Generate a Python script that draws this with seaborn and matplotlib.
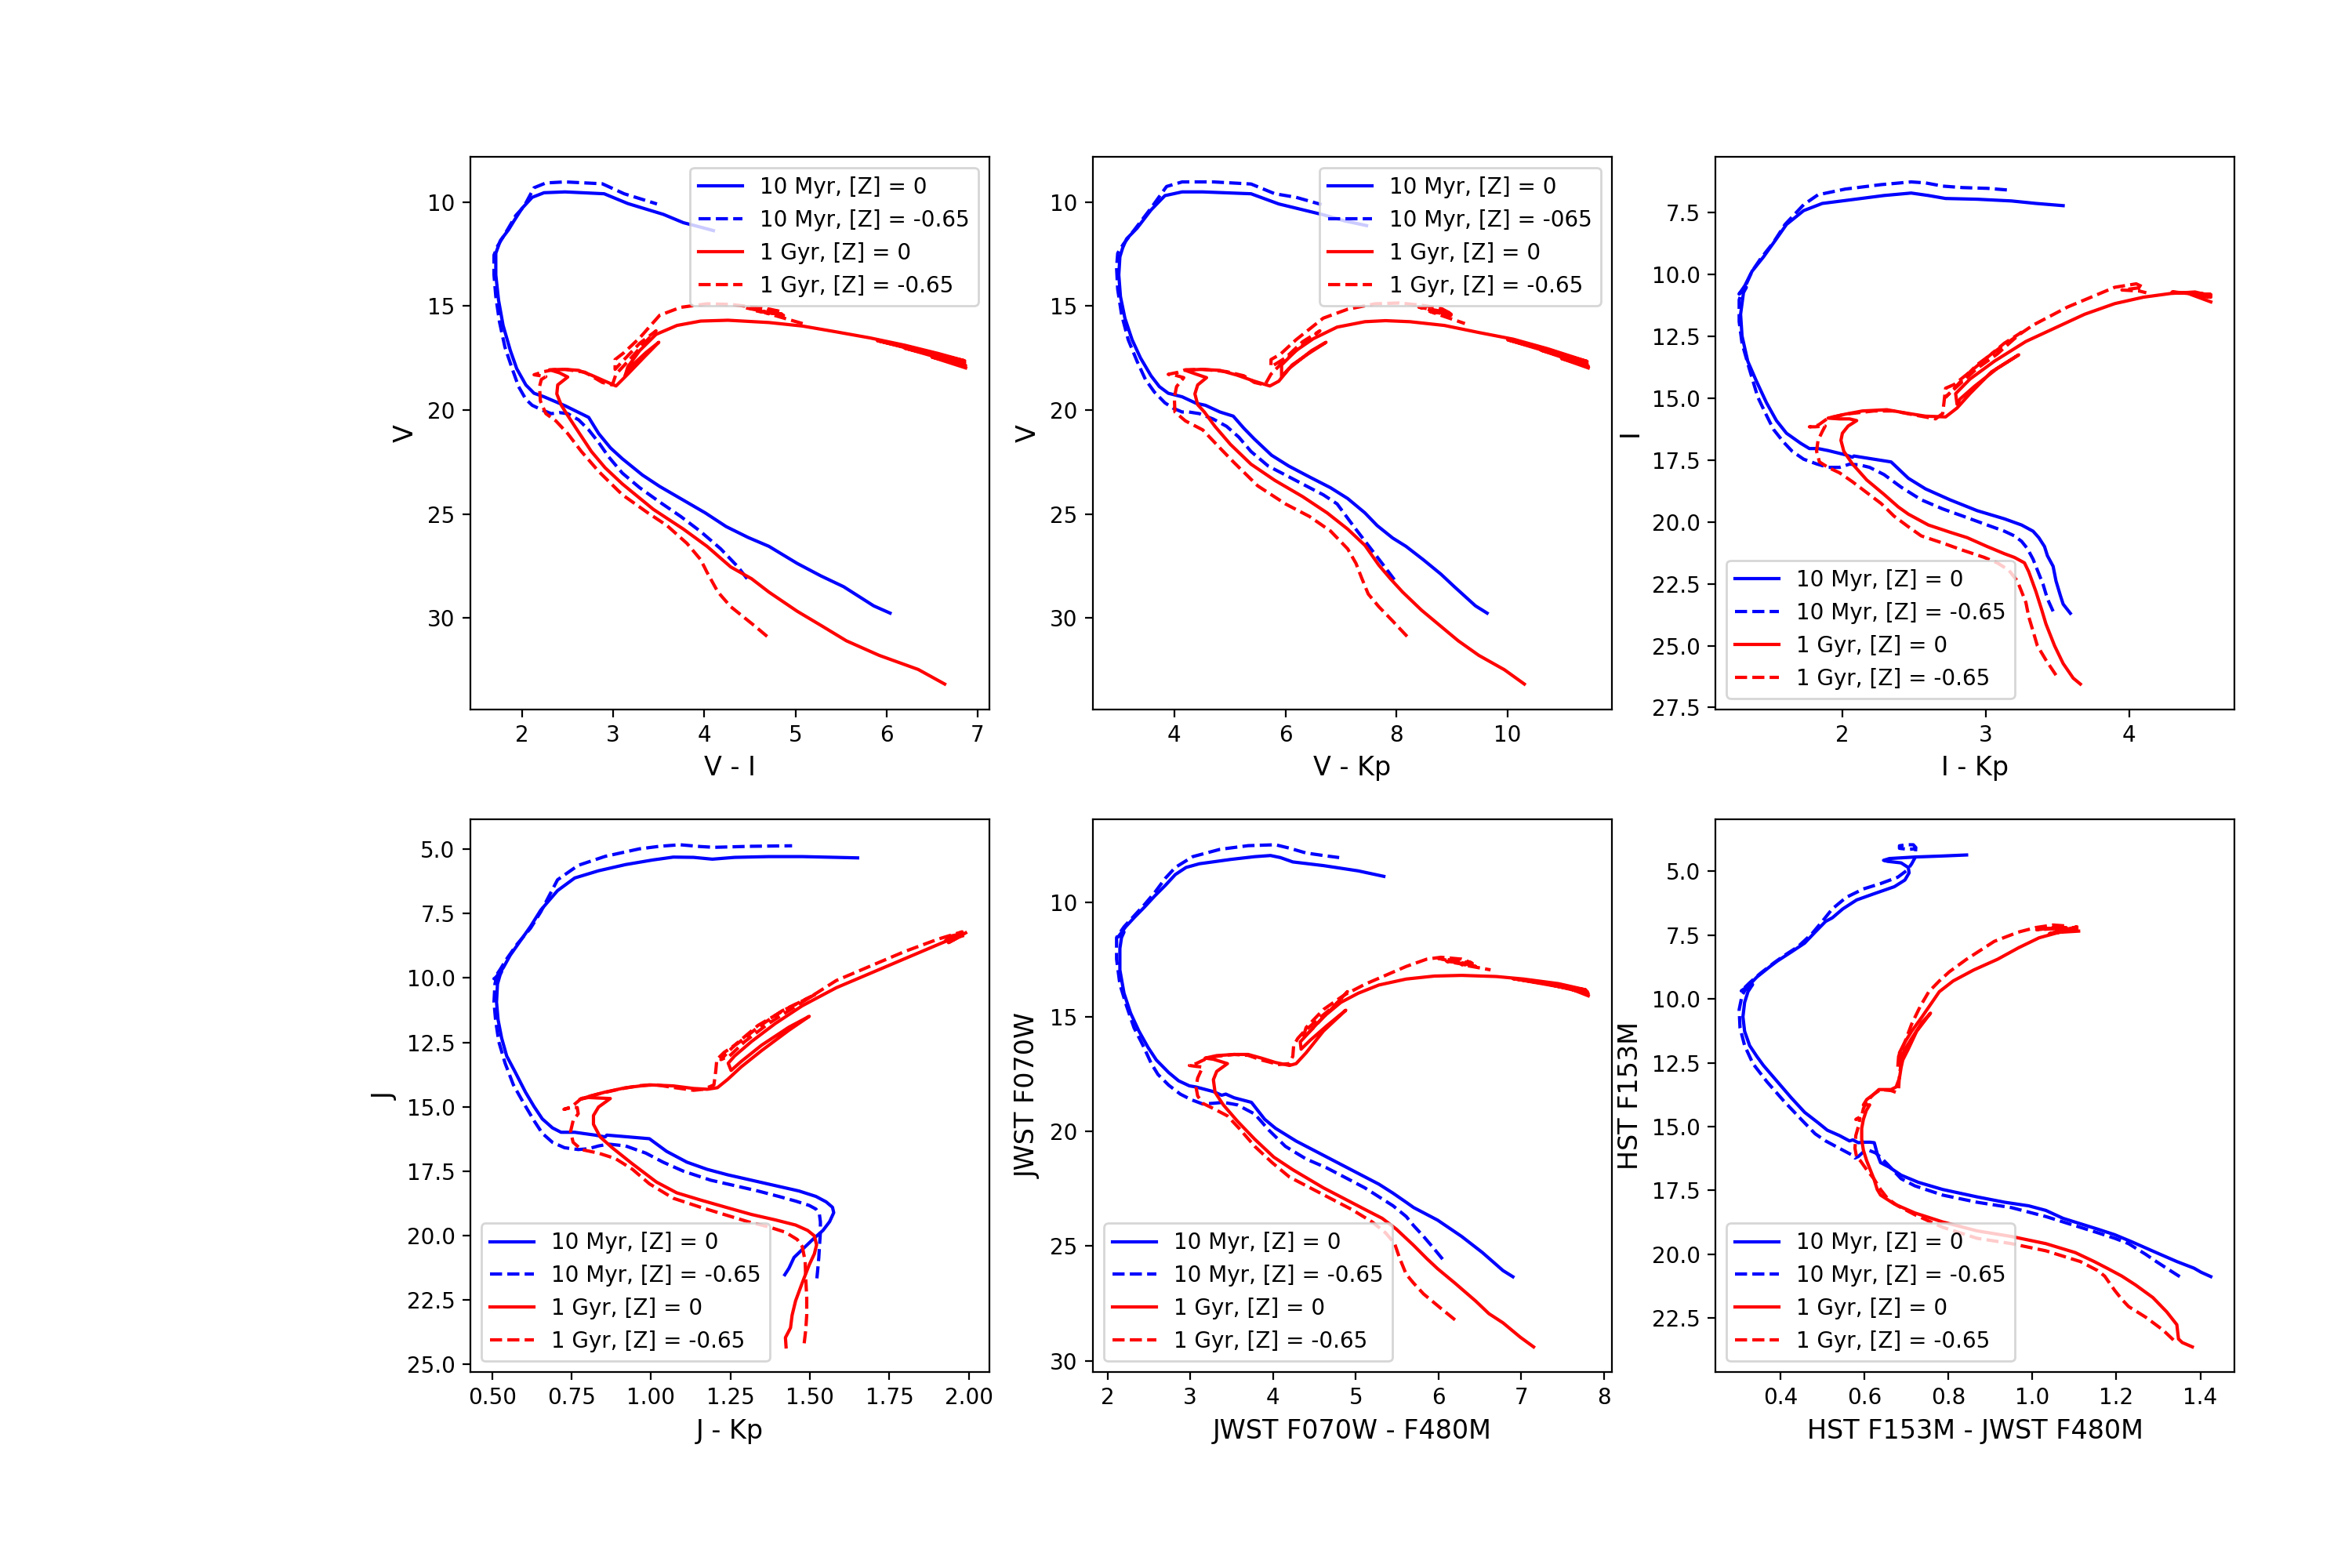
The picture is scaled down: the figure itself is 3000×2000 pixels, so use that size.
import matplotlib
matplotlib.use('Agg')
import matplotlib.pyplot as plt
import seaborn as sns

# ---- panel 1: V vs V - I ----
vi_b0_x = [6.04, 5.86, 5.53, 5.28, 5.02, 4.71, 4.48, 4.24, 4.01, 3.77, 3.51, 3.32, 3.10, 2.97, 2.84, 2.73, 2.47, 2.24, 2.13, 2.04, 1.94, 1.87, 1.79, 1.74, 1.71, 1.71, 1.76, 1.85, 1.91, 2.00, 2.11, 2.24, 2.47, 2.90, 3.16, 3.55, 3.77, 3.92, 4.10]
vi_b0_y = [29.76, 29.41, 28.49, 27.97, 27.37, 26.55, 26.12, 25.60, 24.94, 24.33, 23.67, 23.12, 22.34, 21.82, 21.13, 20.35, 19.79, 19.36, 19.19, 18.79, 18.01, 17.14, 15.93, 14.71, 13.50, 12.46, 11.85, 11.33, 10.90, 10.29, 9.77, 9.55, 9.51, 9.60, 10.07, 10.59, 10.99, 11.16, 11.37]
vi_b1_x = [4.47, 4.37, 4.18, 3.96, 3.74, 3.51, 3.29, 3.10, 2.95, 2.84, 2.73, 2.62, 2.50, 2.41, 2.32, 2.22, 2.11, 2.04, 1.96, 1.89, 1.81, 1.75, 1.71, 1.69, 1.69, 1.73, 1.83, 1.93, 2.02, 2.13, 2.26, 2.47, 2.88, 3.12, 3.48]
vi_b1_y = [28.11, 27.54, 26.67, 25.84, 25.11, 24.42, 23.73, 23.03, 22.25, 21.56, 20.95, 20.47, 20.17, 20.12, 20.17, 20.00, 19.77, 19.48, 18.87, 18.01, 16.97, 15.75, 14.54, 13.50, 12.55, 12.11, 11.39, 10.64, 10.21, 9.31, 9.08, 9.03, 9.12, 9.60, 10.09]
vi_r0_x = [6.64, 6.35, 5.92, 5.56, 5.30, 5.02, 4.71, 4.52, 4.29, 4.03, 3.77, 3.44, 3.10, 2.91, 2.76, 2.63, 2.50, 2.43, 2.38, 2.39, 2.50, 2.41, 2.30, 2.47, 2.62, 2.76, 2.91, 3.03, 3.16, 3.34, 3.50, 3.36, 3.19, 3.13, 3.16, 3.29, 3.47, 3.70, 3.96, 4.26, 4.71, 5.08, 5.45, 5.82, 6.20, 6.57, 6.86, 5.90, 6.86, 6.20, 6.87, 6.50, 6.87]
vi_r0_y = [33.17, 32.47, 31.79, 31.09, 30.40, 29.67, 28.75, 28.11, 27.54, 26.55, 25.72, 24.77, 23.55, 22.77, 21.99, 21.13, 20.26, 19.77, 19.22, 18.79, 18.41, 18.21, 18.06, 18.04, 18.09, 18.32, 18.61, 18.84, 18.27, 17.45, 16.74, 17.23, 17.92, 18.35, 17.92, 17.14, 16.36, 15.93, 15.72, 15.68, 15.79, 15.96, 16.24, 16.53, 16.88, 17.28, 17.63, 16.66, 17.72, 17.02, 17.85, 17.45, 17.97]
vi_r1_x = [4.69, 4.56, 4.29, 4.15, 4.03, 3.96, 3.81, 3.59, 3.38, 3.10, 2.84, 2.65, 2.50, 2.37, 2.26, 2.20, 2.19, 2.21, 2.26, 2.13, 2.24, 2.34, 2.47, 2.69, 2.88, 2.99, 3.03, 3.18, 3.32, 3.47, 3.29, 3.10, 3.02, 3.02, 3.12, 3.29, 3.51, 3.74, 4.03, 4.29, 4.56, 4.72, 4.85, 4.45, 4.87, 4.55, 4.85, 4.67, 5.08]
vi_r1_y = [30.88, 30.40, 29.45, 28.75, 27.80, 27.19, 26.41, 25.55, 24.94, 24.07, 22.95, 21.99, 21.13, 20.52, 20.17, 19.57, 18.87, 18.53, 18.39, 18.30, 18.15, 18.06, 18.04, 18.18, 18.67, 18.79, 18.27, 17.57, 16.88, 16.19, 16.79, 17.66, 18.04, 17.57, 17.23, 16.53, 15.44, 15.06, 14.89, 14.92, 15.06, 15.15, 15.27, 15.08, 15.44, 15.22, 15.38, 15.32, 15.84]

# ---- panel 2: V vs V - Kp ----
vk_b0_x = [9.63, 9.42, 9.04, 8.80, 8.48, 8.17, 7.93, 7.65, 7.43, 7.12, 6.81, 6.43, 6.06, 5.75, 5.44, 5.25, 5.06, 4.82, 4.56, 4.39, 4.14, 3.89, 3.73, 3.58, 3.39, 3.24, 3.11, 3.03, 3.00, 3.02, 3.07, 3.14, 3.33, 3.58, 3.83, 4.14, 4.51, 5.38, 5.88, 6.68, 7.06, 7.46]
vk_b0_y = [29.76, 29.41, 28.49, 27.89, 27.19, 26.55, 26.15, 25.55, 24.94, 24.25, 23.73, 23.21, 22.69, 22.17, 21.39, 20.87, 20.29, 20.09, 19.77, 19.67, 19.36, 19.19, 18.87, 18.35, 17.49, 16.62, 15.58, 14.54, 13.50, 12.63, 12.20, 11.77, 11.25, 10.38, 9.69, 9.51, 9.51, 9.60, 10.09, 10.61, 10.90, 11.13]
vk_b1_x = [7.96, 7.74, 7.49, 7.24, 6.93, 6.68, 6.37, 6.00, 5.69, 5.38, 5.16, 4.94, 4.70, 4.45, 4.26, 4.14, 3.98, 3.83, 3.64, 3.48, 3.33, 3.17, 3.05, 2.98, 2.96, 2.98, 3.08, 3.33, 3.58, 3.86, 4.14, 4.70, 5.38, 5.81, 6.19, 6.65]
vk_b1_y = [28.15, 27.37, 26.50, 25.63, 24.51, 24.07, 23.64, 23.12, 22.69, 21.99, 21.30, 20.78, 20.43, 20.17, 20.09, 20.09, 19.91, 19.65, 19.13, 18.53, 17.66, 16.62, 15.41, 14.19, 13.15, 12.46, 12.03, 11.16, 10.29, 9.25, 9.03, 9.03, 9.13, 9.60, 9.77, 10.12]
vk_r0_x = [10.30, 9.94, 9.48, 9.11, 8.80, 8.45, 8.11, 7.89, 7.68, 7.43, 7.12, 6.75, 6.31, 5.81, 5.38, 5.01, 4.73, 4.54, 4.42, 4.37, 4.42, 4.58, 4.39, 4.20, 4.48, 4.82, 5.13, 5.44, 5.72, 5.88, 6.12, 6.40, 6.73, 6.47, 6.06, 5.93, 5.93, 6.19, 6.50, 6.93, 7.43, 7.80, 8.24, 8.86, 9.48, 10.10, 10.72, 11.43, 10.00, 11.43, 10.60, 11.45, 10.97, 11.45]
vk_r0_y = [33.17, 32.48, 31.79, 31.09, 30.40, 29.62, 28.75, 28.11, 27.45, 26.50, 25.72, 24.94, 24.16, 23.38, 22.60, 21.65, 20.78, 20.09, 19.74, 19.22, 18.79, 18.44, 18.27, 18.09, 18.04, 18.09, 18.32, 18.61, 18.84, 18.61, 17.83, 17.31, 16.74, 17.14, 18.01, 18.39, 17.83, 17.14, 16.57, 16.01, 15.75, 15.70, 15.75, 15.93, 16.27, 16.59, 17.05, 17.66, 16.62, 17.76, 17.12, 17.88, 17.52, 17.97]
vk_r1_x = [8.19, 7.93, 7.68, 7.49, 7.37, 7.27, 7.12, 6.81, 6.43, 6.00, 5.50, 5.07, 4.82, 4.51, 4.20, 4.01, 4.00, 4.04, 4.17, 4.01, 3.89, 4.07, 4.20, 4.51, 4.94, 5.25, 5.44, 5.63, 5.74, 6.00, 6.31, 6.62, 6.31, 6.00, 5.74, 5.74, 5.91, 6.19, 6.68, 7.12, 7.61, 8.05, 8.48, 8.80, 8.95, 8.40, 8.98, 8.55, 8.98, 8.61, 9.23]
vk_r1_y = [30.88, 30.14, 29.45, 28.84, 28.06, 27.37, 26.67, 25.81, 25.11, 24.51, 23.64, 22.51, 21.82, 20.95, 20.52, 20.09, 19.39, 18.87, 18.44, 18.32, 18.28, 18.18, 18.06, 18.04, 18.15, 18.35, 18.67, 18.79, 18.27, 17.57, 16.88, 16.19, 16.71, 17.49, 17.92, 17.57, 17.31, 16.62, 15.58, 15.15, 14.89, 14.85, 14.97, 15.11, 15.32, 15.05, 15.44, 15.22, 15.38, 15.27, 15.84]

# ---- panel 3: I vs I - Kp ----
ik_b0_x = [3.59, 3.54, 3.52, 3.49, 3.47, 3.43, 3.41, 3.37, 3.33, 3.25, 3.13, 2.94, 2.75, 2.58, 2.46, 2.34, 2.22, 2.08, 2.07, 2.02, 1.90, 1.83, 1.77, 1.71, 1.61, 1.54, 1.47, 1.40, 1.34, 1.30, 1.29, 1.31, 1.33, 1.28, 1.32, 1.37, 1.45, 1.54, 1.61, 1.73, 1.86, 2.05, 2.29, 2.48, 2.60, 2.72, 2.94, 3.18, 3.35, 3.54]
ik_b0_y = [23.69, 23.32, 22.96, 22.38, 21.79, 21.36, 20.99, 20.63, 20.37, 20.12, 19.87, 19.54, 19.10, 18.66, 18.23, 17.57, 17.46, 17.33, 17.38, 17.28, 17.11, 17.03, 17.03, 16.82, 16.41, 15.90, 15.17, 14.30, 13.50, 12.48, 11.60, 10.73, 10.51, 10.78, 10.44, 9.86, 9.28, 8.55, 7.97, 7.41, 7.12, 6.98, 6.80, 6.70, 6.80, 6.92, 6.95, 7.02, 7.12, 7.21]
ik_b1_x = [3.47, 3.43, 3.40, 3.36, 3.33, 3.29, 3.25, 3.20, 3.13, 3.01, 2.84, 2.70, 2.55, 2.41, 2.29, 2.19, 2.12, 2.05, 1.98, 1.90, 1.82, 1.73, 1.65, 1.59, 1.52, 1.47, 1.41, 1.35, 1.30, 1.28, 1.28, 1.30, 1.28, 1.32, 1.37, 1.43, 1.52, 1.60, 1.73, 1.83, 2.02, 2.27, 2.48, 2.58, 2.70, 2.84, 3.01, 3.16]
ik_b1_y = [23.61, 23.10, 22.52, 21.94, 21.50, 21.07, 20.78, 20.56, 20.37, 20.12, 19.76, 19.47, 19.10, 18.59, 18.08, 17.79, 17.69, 17.66, 17.79, 17.79, 17.65, 17.46, 17.14, 16.77, 16.26, 15.68, 14.95, 13.79, 12.77, 11.90, 11.02, 10.66, 10.78, 10.51, 9.86, 9.35, 8.69, 7.97, 7.17, 6.77, 6.54, 6.36, 6.25, 6.29, 6.42, 6.48, 6.51, 6.58]
ik_r0_x = [3.66, 3.61, 3.54, 3.48, 3.42, 3.39, 3.35, 3.30, 3.27, 3.20, 3.13, 3.01, 2.87, 2.75, 2.60, 2.46, 2.39, 2.29, 2.17, 2.07, 2.01, 1.99, 2.00, 2.04, 2.10, 2.05, 1.98, 1.90, 2.02, 2.14, 2.31, 2.46, 2.58, 2.72, 2.80, 2.89, 3.04, 3.23, 3.08, 2.92, 2.82, 2.80, 2.79, 2.89, 3.06, 3.28, 3.47, 3.69, 3.90, 4.10, 4.29, 4.46, 4.57, 4.30, 4.57, 4.39, 4.57, 4.43, 4.57]
ik_r0_y = [26.55, 26.31, 25.72, 25.00, 24.12, 23.54, 22.81, 22.01, 21.65, 21.43, 21.28, 20.99, 20.63, 20.41, 20.12, 19.68, 19.39, 18.88, 18.30, 17.65, 17.14, 16.70, 16.41, 16.12, 15.90, 15.83, 15.83, 15.80, 15.64, 15.51, 15.46, 15.61, 15.72, 15.75, 15.39, 14.81, 13.93, 13.24, 13.79, 14.52, 15.03, 15.24, 14.81, 14.22, 13.50, 12.70, 12.19, 11.60, 11.17, 10.91, 10.76, 10.70, 10.85, 10.70, 10.80, 10.73, 10.91, 10.80, 11.10]
ik_r1_x = [3.49, 3.42, 3.36, 3.33, 3.30, 3.28, 3.25, 3.22, 3.16, 3.08, 2.99, 2.84, 2.70, 2.55, 2.46, 2.36, 2.27, 2.17, 2.07, 1.98, 1.90, 1.84, 1.82, 1.83, 1.86, 1.88, 1.81, 1.77, 1.83, 1.90, 2.02, 2.22, 2.36, 2.51, 2.65, 2.70, 2.71, 2.72, 2.78, 2.89, 3.01, 3.13, 3.25, 3.08, 2.94, 2.80, 2.72, 2.77, 2.84, 2.94, 3.11, 3.33, 3.57, 3.78, 3.90, 4.05, 4.10, 3.95, 4.07, 4.12]
ik_r1_y = [26.19, 25.58, 25.00, 24.41, 23.83, 23.25, 22.81, 22.38, 21.94, 21.65, 21.43, 21.14, 20.85, 20.56, 20.19, 19.76, 19.25, 18.81, 18.37, 18.01, 17.79, 17.57, 17.14, 16.70, 16.34, 16.12, 16.15, 16.15, 16.09, 15.80, 15.64, 15.51, 15.51, 15.68, 15.83, 15.61, 15.10, 14.59, 14.44, 13.93, 13.35, 12.77, 12.33, 13.21, 13.79, 14.52, 14.95, 14.66, 14.22, 13.64, 12.91, 12.04, 11.31, 10.80, 10.51, 10.37, 10.51, 10.62, 10.66, 10.73]

# ---- panel 4: J vs J - Kp ----
jk_b0_x = [1.421, 1.434, 1.450, 1.476, 1.509, 1.541, 1.562, 1.575, 1.571, 1.551, 1.519, 1.466, 1.391, 1.316, 1.241, 1.177, 1.113, 1.049, 0.995, 0.910, 0.861, 0.856, 0.824, 0.760, 0.717, 0.690, 0.658, 0.632, 0.605, 0.573, 0.546, 0.530, 0.519, 0.514, 0.517, 0.525, 0.530, 0.509, 0.535, 0.557, 0.589, 0.621, 0.653, 0.706, 0.760, 0.835, 0.920, 1.006, 1.070, 1.134, 1.193, 1.263, 1.370, 1.476, 1.583, 1.650]
jk_b0_y = [21.52, 21.27, 20.85, 20.54, 20.15, 19.80, 19.46, 19.11, 18.90, 18.69, 18.48, 18.27, 18.06, 17.85, 17.64, 17.43, 17.15, 16.73, 16.24, 16.15, 16.10, 16.17, 16.10, 15.99, 15.99, 15.82, 15.47, 14.99, 14.43, 13.66, 13.03, 12.33, 11.63, 10.94, 10.24, 9.89, 9.75, 10.03, 9.61, 9.12, 8.56, 8.00, 7.37, 6.61, 6.12, 5.84, 5.60, 5.42, 5.31, 5.32, 5.39, 5.32, 5.29, 5.29, 5.32, 5.34]
jk_b1_x = [1.522, 1.525, 1.528, 1.530, 1.533, 1.533, 1.530, 1.519, 1.498, 1.455, 1.402, 1.337, 1.263, 1.188, 1.102, 1.038, 0.984, 0.920, 0.867, 0.835, 0.803, 0.771, 0.728, 0.690, 0.658, 0.632, 0.599, 0.567, 0.541, 0.521, 0.511, 0.506, 0.509, 0.514, 0.506, 0.525, 0.546, 0.578, 0.621, 0.653, 0.706, 0.771, 0.856, 0.963, 1.027, 1.091, 1.156, 1.198, 1.316, 1.444]
jk_b1_y = [21.66, 21.27, 20.85, 20.43, 19.87, 19.46, 19.18, 18.97, 18.83, 18.66, 18.48, 18.27, 18.06, 17.85, 17.50, 17.15, 16.80, 16.52, 16.45, 16.52, 16.63, 16.66, 16.59, 16.38, 16.03, 15.54, 14.85, 14.15, 13.31, 12.47, 11.63, 10.94, 10.24, 9.96, 10.03, 9.68, 9.26, 8.70, 8.07, 7.44, 6.19, 5.63, 5.28, 4.99, 4.89, 4.83, 4.90, 4.93, 4.89, 4.87]
jk_r0_x = [1.425, 1.423, 1.439, 1.444, 1.455, 1.476, 1.498, 1.514, 1.521, 1.514, 1.493, 1.455, 1.391, 1.316, 1.241, 1.156, 1.081, 1.017, 0.942, 0.878, 0.840, 0.819, 0.819, 0.835, 0.872, 0.835, 0.803, 0.776, 0.813, 0.856, 0.920, 0.995, 1.070, 1.134, 1.177, 1.209, 1.241, 1.284, 1.348, 1.434, 1.498, 1.434, 1.348, 1.284, 1.252, 1.243, 1.263, 1.316, 1.391, 1.476, 1.583, 1.690, 1.797, 1.904, 1.958, 1.979, 1.926, 1.979, 1.936, 1.990]
jk_r0_y = [24.32, 23.96, 23.58, 23.09, 22.53, 21.83, 21.13, 20.71, 20.36, 20.01, 19.80, 19.59, 19.39, 19.18, 18.92, 18.62, 18.34, 17.92, 17.22, 16.59, 16.17, 15.68, 15.34, 15.01, 14.68, 14.66, 14.64, 14.71, 14.57, 14.43, 14.26, 14.15, 14.19, 14.29, 14.32, 14.26, 13.94, 13.45, 12.82, 12.03, 11.49, 11.91, 12.61, 13.24, 13.59, 13.31, 13.03, 12.47, 11.77, 11.08, 10.38, 9.82, 9.26, 8.70, 8.42, 8.28, 8.42, 8.35, 8.63, 8.25]
jk_r1_x = [1.482, 1.487, 1.490, 1.490, 1.487, 1.485, 1.476, 1.460, 1.423, 1.370, 1.305, 1.230, 1.156, 1.070, 0.995, 0.942, 0.888, 0.835, 0.781, 0.755, 0.747, 0.755, 0.771, 0.768, 0.749, 0.726, 0.749, 0.781, 0.835, 0.899, 0.963, 1.017, 1.070, 1.134, 1.166, 1.198, 1.204, 1.207, 1.230, 1.273, 1.337, 1.412, 1.519, 1.423, 1.337, 1.263, 1.220, 1.247, 1.295, 1.370, 1.476, 1.583, 1.690, 1.797, 1.904, 1.979, 1.926, 1.985]
jk_r1_y = [24.18, 23.65, 23.09, 22.39, 21.69, 20.99, 20.43, 20.15, 19.87, 19.66, 19.46, 19.18, 18.90, 18.55, 17.99, 17.43, 17.01, 16.80, 16.66, 16.38, 15.96, 15.54, 15.27, 15.03, 15.03, 15.10, 15.01, 14.68, 14.50, 14.32, 14.18, 14.15, 14.25, 14.36, 14.32, 14.15, 13.59, 13.17, 12.89, 12.54, 11.91, 11.28, 10.63, 11.22, 11.84, 12.61, 13.17, 13.03, 12.47, 11.77, 10.94, 10.10, 9.54, 8.98, 8.49, 8.21, 8.56, 8.35]

# ---- panel 5: JWST F070W vs F070W - F480M ----
jw_b0_x = [6.90, 6.78, 6.53, 6.28, 5.99, 5.70, 5.61, 5.45, 5.28, 5.03, 4.78, 4.53, 4.28, 4.03, 3.90, 3.74, 3.53, 3.43, 3.38, 3.28, 3.07, 2.99, 2.86, 2.74, 2.59, 2.49, 2.38, 2.28, 2.20, 2.15, 2.15, 2.17, 2.20, 2.13, 2.22, 2.32, 2.45, 2.57, 2.70, 2.82, 2.95, 3.11, 3.49, 3.78, 3.97, 4.09, 4.24, 4.61, 5.03, 5.34]
jw_b0_y = [26.34, 26.07, 25.28, 24.58, 23.87, 23.32, 23.09, 22.69, 22.30, 21.83, 21.36, 20.89, 20.42, 19.86, 19.47, 18.73, 18.53, 18.37, 18.42, 18.26, 18.06, 18.01, 17.79, 17.43, 16.88, 16.33, 15.62, 14.84, 13.97, 12.95, 12.01, 11.54, 11.30, 11.51, 11.07, 10.68, 10.20, 9.73, 9.26, 8.79, 8.48, 8.32, 8.13, 8.01, 7.96, 8.05, 8.24, 8.40, 8.63, 8.87]
jw_b1_x = [6.05, 5.95, 5.82, 5.70, 5.61, 5.45, 5.28, 5.11, 4.90, 4.65, 4.40, 4.15, 3.95, 3.78, 3.57, 3.40, 3.28, 3.15, 3.01, 2.88, 2.74, 2.61, 2.53, 2.43, 2.32, 2.23, 2.15, 2.11, 2.11, 2.20, 2.32, 2.45, 2.57, 2.70, 2.82, 3.03, 3.36, 3.70, 4.03, 4.20, 4.40, 4.61, 4.80]
jw_b1_y = [25.57, 25.13, 24.58, 24.11, 23.71, 23.24, 22.85, 22.46, 22.06, 21.59, 21.20, 20.65, 19.94, 19.24, 18.84, 18.73, 18.77, 18.80, 18.61, 18.37, 17.98, 17.51, 17.04, 16.25, 15.47, 14.52, 13.58, 12.48, 11.54, 11.07, 10.60, 10.09, 9.58, 8.95, 8.48, 8.01, 7.69, 7.53, 7.49, 7.64, 7.85, 7.96, 8.05]
jw_r0_x = [7.15, 6.99, 6.78, 6.61, 6.45, 6.20, 5.99, 5.86, 5.70, 5.49, 5.32, 5.11, 4.86, 4.61, 4.24, 4.01, 3.78, 3.57, 3.40, 3.30, 3.28, 3.32, 3.45, 3.38, 3.28, 3.18, 3.32, 3.53, 3.70, 3.86, 4.03, 4.20, 4.28, 4.40, 4.61, 4.88, 4.65, 4.45, 4.34, 4.33, 4.45, 4.61, 4.82, 5.03, 5.28, 5.61, 5.95, 6.28, 6.70, 7.03, 7.45, 7.78, 6.90, 7.80, 7.30, 7.81, 7.57, 7.81]
jw_r0_y = [29.40, 28.98, 28.35, 27.95, 27.40, 26.62, 25.99, 25.55, 24.97, 24.26, 23.79, 23.40, 22.93, 22.46, 21.67, 21.12, 20.34, 19.55, 18.84, 18.29, 17.74, 17.38, 17.04, 16.96, 16.85, 16.80, 16.69, 16.64, 16.64, 16.80, 16.99, 17.12, 17.04, 16.57, 15.62, 14.71, 15.39, 16.02, 16.41, 16.09, 15.62, 15.00, 14.37, 13.97, 13.61, 13.35, 13.22, 13.19, 13.24, 13.35, 13.55, 13.82, 13.33, 13.90, 13.55, 13.98, 13.74, 14.08]
jw_r1_x = [6.20, 6.03, 5.82, 5.70, 5.61, 5.53, 5.47, 5.36, 5.20, 4.95, 4.70, 4.45, 4.20, 3.99, 3.78, 3.59, 3.45, 3.28, 3.15, 3.09, 3.07, 3.09, 3.15, 3.07, 2.99, 3.07, 3.18, 3.32, 3.53, 3.70, 3.86, 4.07, 4.20, 4.24, 4.25, 4.30, 4.36, 4.53, 4.74, 4.90, 4.70, 4.49, 4.36, 4.40, 4.61, 4.86, 5.11, 5.36, 5.61, 5.86, 6.03, 6.28, 6.40, 6.00, 6.45, 6.10, 6.45, 6.28, 6.63]
jw_r1_y = [28.22, 27.72, 27.09, 26.62, 26.23, 25.52, 24.89, 24.42, 23.95, 23.40, 22.93, 22.46, 21.99, 21.36, 20.65, 19.86, 19.32, 19.00, 18.77, 18.45, 18.06, 17.67, 17.19, 17.16, 17.12, 17.04, 16.85, 16.72, 16.64, 16.68, 16.88, 17.08, 17.04, 16.72, 16.25, 15.94, 15.70, 15.15, 14.52, 13.90, 14.68, 15.47, 15.94, 15.47, 14.68, 14.05, 13.58, 13.19, 12.80, 12.48, 12.40, 12.48, 12.64, 12.45, 12.80, 12.58, 12.70, 12.72, 12.95]

# ---- panel 6: HST F153M vs F153M - JWST F480M ----
hj_b0_x = [1.425, 1.402, 1.385, 1.344, 1.295, 1.237, 1.196, 1.155, 1.114, 1.073, 1.032, 0.991, 0.934, 0.868, 0.786, 0.728, 0.687, 0.659, 0.638, 0.630, 0.623, 0.613, 0.597, 0.585, 0.572, 0.564, 0.540, 0.511, 0.490, 0.457, 0.425, 0.392, 0.359, 0.343, 0.326, 0.314, 0.310, 0.314, 0.322, 0.333, 0.318, 0.306, 0.322, 0.343, 0.375, 0.392, 0.425, 0.457, 0.482, 0.507, 0.523, 0.548, 0.581, 0.622, 0.671, 0.696, 0.706, 0.704, 0.687, 0.655, 0.645, 0.659, 0.720, 0.786, 0.843]
hj_b0_y = [20.87, 20.70, 20.54, 20.28, 19.93, 19.51, 19.23, 19.01, 18.80, 18.59, 18.28, 18.10, 17.96, 17.75, 17.46, 17.18, 16.90, 16.59, 16.41, 16.06, 15.63, 15.61, 15.61, 15.63, 15.52, 15.56, 15.35, 15.14, 14.86, 14.44, 13.87, 13.24, 12.61, 12.25, 11.83, 11.27, 10.70, 10.14, 9.72, 9.44, 9.61, 9.69, 9.51, 9.15, 8.73, 8.52, 8.17, 7.82, 7.39, 6.97, 6.83, 6.48, 6.13, 5.89, 5.61, 5.35, 5.07, 4.86, 4.68, 4.62, 4.58, 4.51, 4.45, 4.41, 4.37]
hj_b1_x = [1.351, 1.328, 1.295, 1.270, 1.229, 1.196, 1.155, 1.114, 1.032, 0.950, 0.868, 0.786, 0.720, 0.687, 0.667, 0.655, 0.638, 0.626, 0.609, 0.597, 0.585, 0.577, 0.572, 0.540, 0.507, 0.482, 0.449, 0.408, 0.367, 0.334, 0.314, 0.303, 0.301, 0.308, 0.318, 0.306, 0.326, 0.351, 0.384, 0.408, 0.441, 0.474, 0.499, 0.523, 0.556, 0.597, 0.638, 0.679, 0.701, 0.712, 0.720, 0.722, 0.716, 0.700, 0.683, 0.683, 0.704, 0.720]
hj_b1_y = [20.87, 20.63, 20.28, 20.00, 19.58, 19.37, 19.15, 18.94, 18.52, 18.17, 17.96, 17.68, 17.32, 17.04, 16.69, 16.48, 16.20, 16.03, 15.92, 15.99, 16.17, 16.23, 16.13, 15.85, 15.56, 15.28, 14.72, 14.01, 13.24, 12.54, 11.83, 11.13, 10.42, 9.86, 9.58, 9.69, 9.37, 9.01, 8.59, 8.31, 7.96, 7.46, 6.97, 6.48, 6.03, 5.70, 5.49, 5.24, 4.97, 4.72, 4.48, 4.08, 3.97, 3.97, 4.01, 4.11, 4.15, 4.13]
hj_r0_x = [1.381, 1.357, 1.348, 1.344, 1.320, 1.287, 1.246, 1.213, 1.180, 1.147, 1.102, 1.032, 0.950, 0.868, 0.786, 0.720, 0.671, 0.638, 0.630, 0.622, 0.605, 0.597, 0.593, 0.593, 0.597, 0.604, 0.612, 0.597, 0.605, 0.622, 0.634, 0.663, 0.675, 0.683, 0.687, 0.691, 0.704, 0.724, 0.757, 0.737, 0.712, 0.696, 0.686, 0.682, 0.683, 0.696, 0.712, 0.737, 0.778, 0.811, 0.860, 0.917, 0.967, 1.016, 1.065, 1.106, 1.040, 1.106, 1.060, 1.110]
hj_r0_y = [23.62, 23.45, 23.31, 22.75, 22.25, 21.69, 21.20, 20.85, 20.56, 20.28, 19.93, 19.58, 19.30, 19.08, 18.73, 18.38, 18.03, 17.68, 17.46, 17.04, 16.34, 15.92, 15.49, 15.07, 14.72, 14.37, 14.15, 14.15, 13.94, 13.73, 13.55, 13.55, 13.45, 13.10, 12.68, 12.39, 11.97, 11.27, 10.56, 10.92, 11.55, 11.97, 12.39, 12.54, 12.11, 11.69, 11.27, 10.70, 9.72, 9.30, 8.87, 8.45, 8.00, 7.61, 7.39, 7.18, 7.45, 7.25, 7.40, 7.35]
hj_r1_x = [1.336, 1.311, 1.270, 1.229, 1.213, 1.196, 1.172, 1.155, 1.114, 1.073, 1.032, 0.950, 0.868, 0.786, 0.720, 0.679, 0.655, 0.638, 0.622, 0.605, 0.590, 0.581, 0.577, 0.579, 0.585, 0.589, 0.579, 0.593, 0.597, 0.605, 0.622, 0.638, 0.663, 0.675, 0.681, 0.683, 0.687, 0.691, 0.683, 0.679, 0.681, 0.696, 0.712, 0.733, 0.753, 0.778, 0.802, 0.843, 0.909, 0.966, 1.008, 1.049, 1.081, 1.010, 1.081, 1.032, 1.081, 1.057]
hj_r1_y = [23.35, 22.96, 22.46, 22.04, 21.76, 21.41, 20.85, 20.63, 20.28, 20.07, 19.86, 19.58, 19.37, 18.94, 18.45, 18.10, 17.82, 17.46, 17.04, 16.69, 16.34, 16.20, 15.85, 15.35, 15.00, 14.68, 14.72, 14.58, 14.30, 14.01, 13.73, 13.55, 13.59, 13.66, 13.52, 12.96, 12.54, 12.11, 12.39, 12.68, 12.25, 11.69, 10.99, 10.28, 9.72, 9.30, 8.94, 8.45, 7.75, 7.39, 7.21, 7.11, 7.15, 7.30, 7.22, 7.25, 7.32, 7.18]

# axis labels and legend text
x_labels = ['V - I', 'V - Kp', 'I - Kp', 'J - Kp', 'JWST F070W - F480M', 'HST F153M - JWST F480M']
y_labels = ['V', 'V', 'I', 'J', 'JWST F070W', 'HST F153M']
legend_labels = ['10 Myr, [Z] = 0', '10 Myr, [Z] = -0.65', '1 Gyr, [Z] = 0', '1 Gyr, [Z] = -0.65']
legend_labels_p2 = ['10 Myr, [Z] = 0', '10 Myr, [Z] = -065', '1 Gyr, [Z] = 0', '1 Gyr, [Z] = -0.65']
legend_locs = ['upper right', 'upper right', 'lower left', 'lower left', 'lower left', 'lower left']

panels = [
    [(vi_b0_x, vi_b0_y), (vi_b1_x, vi_b1_y), (vi_r0_x, vi_r0_y), (vi_r1_x, vi_r1_y)],
    [(vk_b0_x, vk_b0_y), (vk_b1_x, vk_b1_y), (vk_r0_x, vk_r0_y), (vk_r1_x, vk_r1_y)],
    [(ik_b0_x, ik_b0_y), (ik_b1_x, ik_b1_y), (ik_r0_x, ik_r0_y), (ik_r1_x, ik_r1_y)],
    [(jk_b0_x, jk_b0_y), (jk_b1_x, jk_b1_y), (jk_r0_x, jk_r0_y), (jk_r1_x, jk_r1_y)],
    [(jw_b0_x, jw_b0_y), (jw_b1_x, jw_b1_y), (jw_r0_x, jw_r0_y), (jw_r1_x, jw_r1_y)],
    [(hj_b0_x, hj_b0_y), (hj_b1_x, hj_b1_y), (hj_r0_x, hj_r0_y), (hj_r1_x, hj_r1_y)],
]
colors = ['blue', 'blue', 'red', 'red']
styles = ['-', '--', '-', '--']

fig, axes = plt.subplots(2, 3, figsize=(15, 10), dpi=200)
fig.subplots_adjust(left=0.2, right=0.95, bottom=0.125, top=0.9, wspace=0.2, hspace=0.2)

for i, ax in enumerate(axes.flat):
    labels = legend_labels_p2 if i == 1 else legend_labels
    for (xs, ys), c, ls, lab in zip(panels[i], colors, styles, labels):
        sns.lineplot(x=xs, y=ys, sort=False, estimator=None, color=c,
                     linestyle=ls, linewidth=1.5, label=lab, ax=ax)
    ax.invert_yaxis()
    ax.set_xlabel(x_labels[i], fontsize=12)
    ax.set_ylabel(y_labels[i], fontsize=12)
    ax.legend(loc=legend_locs[i], fontsize=10)

plt.savefig('out.png', dpi=200)
